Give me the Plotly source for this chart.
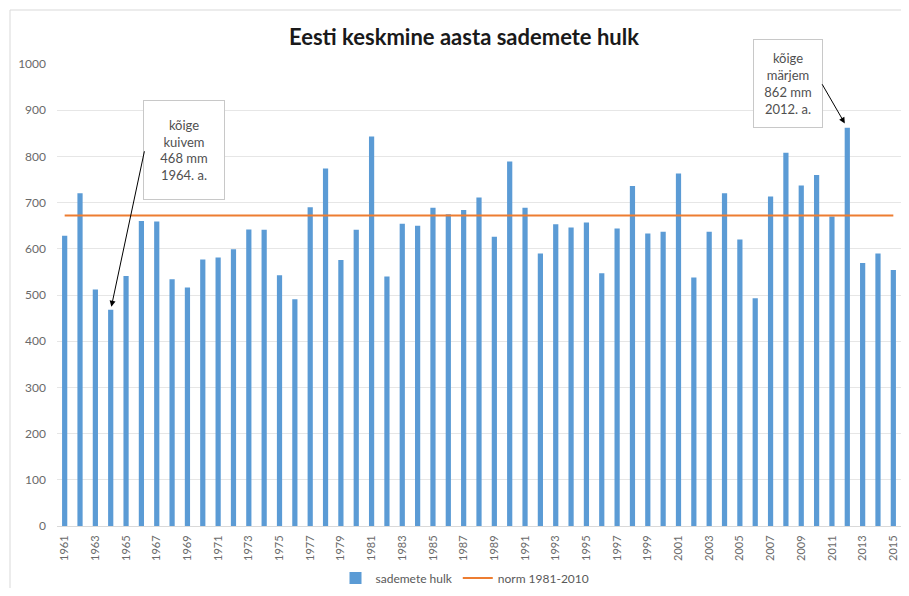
import plotly.graph_objects as go

years = list(range(1961, 2016))
precip = [628, 720, 512, 468, 541, 660, 659, 534, 516, 577, 581, 599, 642, 641, 543, 491, 690, 774,
          576, 641, 843, 540, 654, 650, 689, 675, 684, 711, 626, 789, 689, 590, 653, 646, 657, 547,
          644, 736, 633, 637, 763, 538, 637, 720, 620, 493, 713, 808, 737, 760, 670, 862, 569, 590, 554]
norm_value = 672
norm_series = [norm_value for _ in years]
tick_years = years[::2]

BLUE = "#5B9BD5"
ORANGE = "#ED7D31"
FONT = "Lato"
OFF = 8  # page offset of the figure inside the browser window
FW, FH = 909 - 2 * OFF, 596 - 2 * OFF
PL, PR, PT, PB = 57, 901, 64, 526  # plot area in page pixels
PW, PH = PR - PL, PB - PT


def px(x):
    return (x - PL) / PW


def py(y):
    return (PB - y) / PH


fig = go.Figure()
fig.add_trace(go.Bar(x=years, y=precip, name="sademete hulk",
                     marker=dict(color=BLUE, line=dict(width=0))))
fig.add_trace(go.Scatter(x=years, y=norm_series, name="norm 1981-2010",
                         mode="lines", line=dict(color=ORANGE, width=2)))

fig.update_layout(
    width=FW, height=FH,
    margin=dict(l=PL - OFF, r=FW + OFF - PR, t=PT - OFF, b=FH + OFF - PB, autoexpand=False),
    paper_bgcolor="white", plot_bgcolor="white",
    bargap=0.66,
    title=dict(text="<b>Eesti keskmine aasta sademete hulk</b>", x=(464 - OFF) / FW, xanchor="center",
               y=1 - (37 - OFF) / FH, yanchor="middle",
               font=dict(family=FONT, size=22, color="#1a1a1a")),
    font=dict(family=FONT, color="#595959"),
    legend=dict(orientation="h", x=px(465), xanchor="center", y=py(578), yanchor="middle",
                font=dict(size=12, color="#595959"), itemwidth=30, bgcolor="rgba(0,0,0,0)"),
    showlegend=True,
)
fig.update_xaxes(range=[1960.5, 2015.5], tickmode="array", tickvals=tick_years,
                 ticktext=[str(y) for y in tick_years],
                 tickangle=-90, tickfont=dict(size=11, color="#6a6a6a"),
                 showgrid=False, showline=True, linecolor="#d9d9d9", linewidth=1,
                 ticks="", ticklabelstandoff=4, zeroline=False, automargin=False)
fig.update_yaxes(range=[0, 1000], dtick=100, tickfont=dict(size=12, color="#6a6a6a"),
                 showgrid=True, gridcolor="#e6e6e6", gridwidth=1, zeroline=False,
                 ticks="", ticklabelstandoff=10, showline=False, automargin=False)

# outer frame (top and left edges only are visible in the picture)
fig.add_shape(type="line", xref="paper", yref="paper", x0=px(10), x1=px(915), y0=py(10), y1=py(10),
              line=dict(color="#d9d9d9", width=1), layer="below")
fig.add_shape(type="line", xref="paper", yref="paper", x0=px(10), x1=px(10), y0=py(600), y1=py(10),
              line=dict(color="#d9d9d9", width=1), layer="below")

# callout boxes
fig.add_annotation(xref="paper", yref="paper", x=px(184), y=py(150),
                   text="kõige<br>kuivem<br>468 mm<br>1964. a.", showarrow=False,
                   width=78, height=96, bordercolor="#c8c8c8", borderwidth=1, borderpad=1,
                   bgcolor="white", font=dict(family=FONT, size=13, color="#505050"),
                   xanchor="center", yanchor="middle")
fig.add_annotation(xref="paper", yref="paper", x=px(788), y=py(83),
                   text="kõige<br>märjem<br>862 mm<br>2012. a.", showarrow=False,
                   width=66, height=85, bordercolor="#c8c8c8", borderwidth=1, borderpad=1,
                   bgcolor="white", font=dict(family=FONT, size=13, color="#505050"),
                   xanchor="center", yanchor="middle")

# arrows
fig.add_annotation(x=1964, y=precip[years.index(1964)], text="", showarrow=True,
                   ax=34, ay=-160, arrowhead=2, arrowsize=1.2, arrowwidth=1, arrowcolor="#000000",
                   standoff=3)
fig.add_annotation(x=2012, y=precip[years.index(2012)], text="", showarrow=True,
                   ax=-26, ay=-45, arrowhead=2, arrowsize=1.2, arrowwidth=1, arrowcolor="#000000",
                   standoff=5)

fig.write_html("out.html")
